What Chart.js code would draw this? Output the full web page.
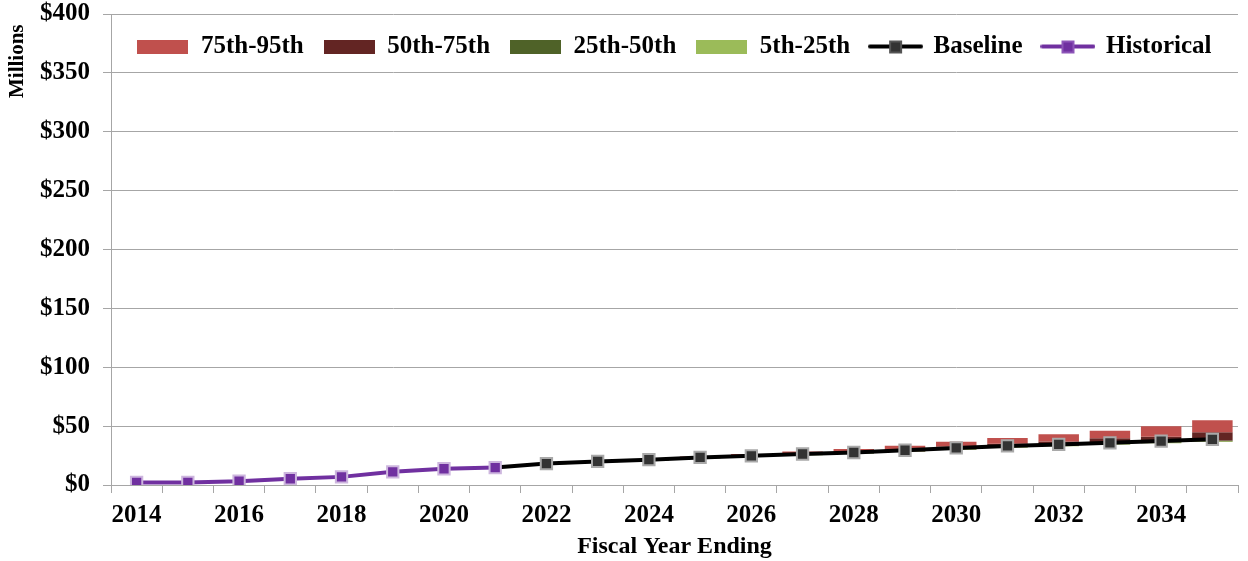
<!DOCTYPE html>
<html>
<head>
<meta charset="utf-8">
<script src="https://cdn.jsdelivr.net/npm/chart.js@4.4.1/dist/chart.umd.min.js"></script>
<style>
  html, body { margin: 0; padding: 0; background: #ffffff; }
  #wrap { width: 1248px; height: 561px; position: relative; }
</style>
</head>
<body>
<div id="wrap"><canvas id="c"></canvas></div>
<script>
// ---- Data ----
const years = ['2014','2015','2016','2017','2018','2019','2020','2021','2022','2023','2024','2025','2026','2027','2028','2029','2030','2031','2032','2033','2034','2035'];
const historical = [2.2, 2.2, 3.2, 5.3, 6.9, 11.2, 13.8, 14.8, null, null, null, null, null, null, null, null, null, null, null, null, null, null];
const baseline   = [null, null, null, null, null, null, null, 14.8, 18.2, 20.0, 21.5, 23.4, 24.8, 26.3, 27.6, 29.5, 31.5, 33.2, 34.5, 35.8, 37.3, 38.8];
const p5  = [null, null, null, null, null, null, null, null, 17.6, 19.3, 20.7, 22.4, 23.9, 25.2, 26.5, 28.0, 29.8, 31.6, 33.0, 34.2, 35.5, 36.6];
const p25 = [null, null, null, null, null, null, null, null, 17.8, 19.5, 20.9, 22.7, 24.2, 25.5, 26.8, 28.3, 30.1, 32.0, 33.4, 34.6, 36.0, 37.2];
const p50 = [null, null, null, null, null, null, null, null, 18.0, 19.7, 21.2, 23.0, 24.5, 25.9, 27.2, 28.7, 30.5, 32.4, 33.8, 35.0, 36.5, 37.8];
const p75 = [null, null, null, null, null, null, null, null, 18.3, 20.1, 21.7, 23.6, 25.2, 26.9, 28.3, 30.4, 32.7, 35.0, 37.0, 39.8, 41.0, 44.8];
const p95 = [null, null, null, null, null, null, null, null, 18.5, 20.4, 22.0, 24.2, 26.3, 28.4, 30.5, 33.3, 36.8, 40.0, 43.0, 46.0, 50.0, 55.0];
const yTicks = [0, 50, 100, 150, 200, 250, 300, 350, 400];

// ---- Styles ----
const FONT = '"Times New Roman", "Liberation Serif", serif';
const C95 = '#C0504D', C75 = '#632523', C50 = '#4F6228', C25 = '#9BBB59';
const GRID = '#a6a6a6';

function band(lo, hi) {
  return years.map((_, i) => (lo[i] == null || hi[i] == null) ? null : [lo[i], hi[i]]);
}

function boxIcon(color) {
  const c = document.createElement('canvas');
  c.width = 51; c.height = 14;
  const g = c.getContext('2d');
  g.fillStyle = color; g.fillRect(0, 0, 51, 14);
  return c;
}
function lineIcon(lineColor, fill, border) {
  const c = document.createElement('canvas');
  c.width = 55; c.height = 16;
  const g = c.getContext('2d');
  g.strokeStyle = lineColor; g.lineWidth = 4; g.lineCap = 'round';
  g.beginPath(); g.moveTo(2, 8); g.lineTo(53, 8); g.stroke();
  g.fillStyle = border; g.fillRect(21, 2, 13, 13);
  g.fillStyle = fill; g.fillRect(23, 4, 9, 9);
  return c;
}

const baseRadius = baseline.map((v, i) => (v == null || historical[i] != null) ? 0 : 8);

const datasets = [
  { type: 'bar', label: '75th-95th', data: band(p75, p95), backgroundColor: C95, order: 2, icon: boxIcon(C95) },
  { type: 'bar', label: '50th-75th', data: band(p50, p75), backgroundColor: C75, order: 2, icon: boxIcon(C75) },
  { type: 'bar', label: '25th-50th', data: band(p25, p50), backgroundColor: C50, order: 2, icon: boxIcon(C50) },
  { type: 'bar', label: '5th-25th',  data: band(p5, p25),  backgroundColor: C25, order: 2, icon: boxIcon(C25) },
  { type: 'line', label: 'Baseline', data: baseline, borderColor: '#000000', borderWidth: 4,
    pointStyle: 'rect', pointRadius: baseRadius, pointBackgroundColor: '#333333',
    pointBorderColor: '#a9a9a9', pointBorderWidth: 2, order: 1, icon: lineIcon('#000000', '#333333', '#555555') },
  { type: 'line', label: 'Historical', data: historical, borderColor: '#7030A0', borderWidth: 4,
    pointStyle: 'rect', pointRadius: 8, pointBackgroundColor: '#7030A0',
    pointBorderColor: '#cdb6de', pointBorderWidth: 2, order: 0, icon: lineIcon('#7030A0', '#7030A0', '#8d55b8') }
];

// Lay the legend out as a horizontal row inside the plot area
const legendRow = {
  id: 'legendRow',
  beforeUpdate(chart) {
    if (chart.legend) chart.legend.isHorizontal = () => true;
  },
  afterLayout(chart) {
    const l = chart.legend, a = chart.chartArea;
    if (!l || !a) return;
    l.left = a.left; l.right = a.right; l.width = a.right - a.left;
    l.top = a.top; l.bottom = a.bottom;
  }
};

new Chart(document.getElementById('c'), {
  data: { labels: years, datasets: datasets },
  plugins: [legendRow],
  options: {
    responsive: true,
    maintainAspectRatio: false,
    animation: false,
    devicePixelRatio: 1,
    layout: { padding: { left: 0, top: 14, right: 9, bottom: 0 } },
    datasets: {
      bar: { barPercentage: 0.79, categoryPercentage: 1.0, borderWidth: 0, grouped: false },
      line: { tension: 0, spanGaps: false, fill: false }
    },
    plugins: {
      tooltip: { enabled: false },
      legend: {
        position: 'chartArea',
        align: 'center',
        labels: {
          usePointStyle: true,
          pointStyleWidth: 51,
          padding: 20,
          color: '#000000',
          font: { family: FONT, size: 25, weight: 'bold' },
          generateLabels(chart) {
            return chart.data.datasets.map((ds, i) => ({
              text: ds.label,
              datasetIndex: i,
              pointStyle: ds.icon,
              fillStyle: 'transparent',
              strokeStyle: 'transparent',
              lineWidth: 0,
              fontColor: '#000000',
              hidden: !chart.isDatasetVisible(i)
            }));
          }
        }
      }
    },
    scales: {
      x: {
        type: 'category',
        stacked: true,
        offset: true,
        grid: { offset: true, drawOnChartArea: false, color: GRID, tickColor: GRID, tickLength: 8, lineWidth: 1 },
        border: { color: GRID, width: 1 },
        ticks: {
          autoSkip: false, maxRotation: 0, minRotation: 0, padding: 8, color: '#000000',
          font: { family: FONT, size: 25, weight: 'bold' },
          callback: (v, i) => (i % 2 === 0 ? years[i] : '')
        },
        title: { display: true, text: 'Fiscal Year Ending', color: '#000000',
          font: { family: FONT, size: 24, weight: 'bold' }, padding: { top: 0, bottom: 0 } },
        afterFit: (s) => { s.height = 76; }
      },
      y: {
        stacked: false,
        min: yTicks[0],
        max: yTicks[yTicks.length - 1],
        afterBuildTicks: (s) => { s.ticks = yTicks.map(v => ({ value: v })); },
        grid: { color: GRID, tickColor: GRID, tickLength: 8, lineWidth: 1 },
        border: { color: GRID, width: 1 },
        ticks: {
          padding: 13, color: '#000000',
          font: { family: FONT, size: 25, weight: 'bold' },
          callback: (v) => '$' + v
        },
        title: { display: true, text: 'Millions  ', align: 'end', color: '#000000',
          font: { family: FONT, size: 21, weight: 'bold' }, padding: { top: 5, bottom: 0 } },
        afterFit: (s) => { s.width = 111; s.paddingTop = 2; s.paddingBottom = 2; }
      }
    }
  }
});
</script>
</body>
</html>
